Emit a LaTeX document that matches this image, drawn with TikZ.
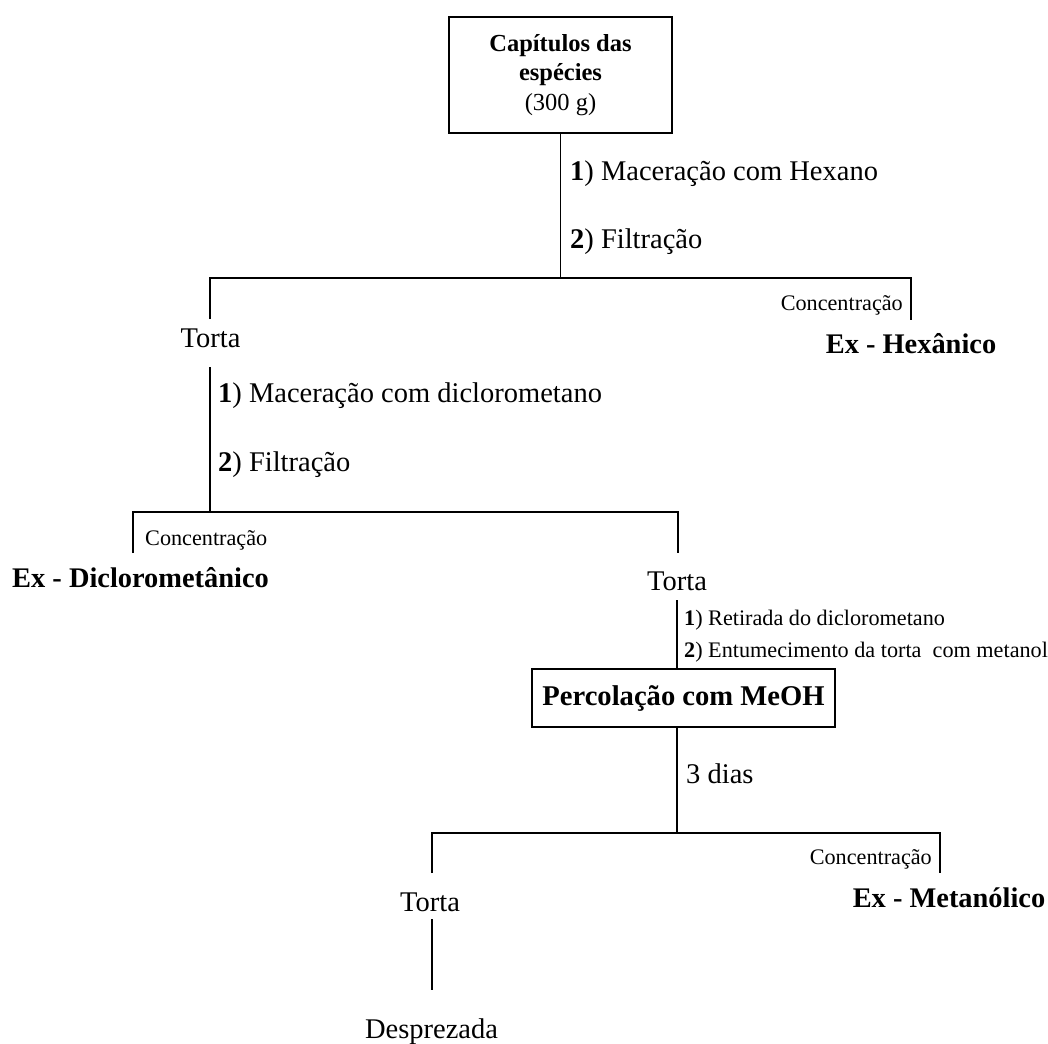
\documentclass[tikz,border=0pt]{standalone}
\usepackage{fontspec}
\setmainfont{Liberation Serif}
\begin{document}
\begin{tikzpicture}[x=1pt,y=-1pt,
  ln/.style={line width=1.5pt},
  txt/.style={inner sep=0pt, font=\fontsize{28.5}{34}\selectfont},
  sml/.style={inner sep=0pt, font=\fontsize{22.2}{26}\selectfont},
  exl/.style={inner sep=0pt, font=\fontsize{28.4}{34}\selectfont\bfseries},
  boxa/.style={draw, line width=1.5pt, inner sep=0pt, align=center}]
\useasboundingbox (0,0) rectangle (1048,1043);

% ---- level 1
\node[boxa, minimum width=223pt, minimum height=116pt,
      font=\fontsize{24.5}{29.5}\selectfont\bfseries] (box1) at (560.5,75)
      {Capítulos das\\espécies\\{\mdseries (300 g)}};
\node[txt, anchor=base west] (m1a) at (570,180) {\textbf{1}) Maceração com Hexano};
\node[txt, anchor=base west] (m1b) at (570,248) {\textbf{2}) Filtração};
\coordinate (j1) at (560.5,278);
\coordinate (l1) at (210,278);
\coordinate (r1) at (911,278);
\coordinate (t1in) at (210,319);
\coordinate (c1in) at (911,320);
\node[sml, anchor=base east] (conc1) at (903,310) {Concentração};
\node[exl, anchor=base] (exhex) at (911,353) {Ex - Hexânico};
\node[txt, anchor=base] (torta1) at (210.5,347) {Torta};
\draw[ln] (box1.south) -- (j1);
\draw[ln] (t1in) -- (l1) -- (r1) -- (c1in);

% ---- level 2
\coordinate (t1out) at (210,367);
\coordinate (j2) at (210,512);
\node[txt, anchor=base west] (m2a) at (218,402) {\textbf{1}) Maceração com diclorometano};
\node[txt, anchor=base west] (m2b) at (218,471) {\textbf{2}) Filtração};
\coordinate (l2) at (133,512);
\coordinate (r2) at (678,512);
\coordinate (c2in) at (133,553);
\coordinate (t2in) at (678,553);
\node[sml, anchor=base west] (conc2) at (145,545) {Concentração};
\node[exl, anchor=base] (exdic) at (140.5,587) {Ex - Diclorometânico};
\node[txt, anchor=base] (torta2) at (677,590) {Torta};
\draw[ln] (t1out) -- (j2);
\draw[ln] (c2in) -- (l2) -- (r2) -- (t2in);

% ---- level 3
\coordinate (t2out) at (677,600);
\node[sml, anchor=base west] (r3a) at (684,625) {\textbf{1}) Retirada do diclorometano};
\node[sml, anchor=base west] (r3b) at (684,657) {\textbf{2}) Entumecimento da torta~ com metanol};
\node[boxa, minimum width=303pt, minimum height=58pt,
      font=\fontsize{28.6}{34}\selectfont\bfseries] (box2) at (683.5,698)
      {Percolação com MeOH};
\draw[ln] (t2out) -- (t2out |- box2.north);

% ---- level 4
\coordinate (j3) at (677,833);
\node[txt, anchor=base west] (dias) at (686,783) {3 dias};
\draw[ln] (j3 |- box2.south) -- (j3);
\coordinate (l3) at (432,833);
\coordinate (r3) at (940,833);
\coordinate (t3in) at (432,873);
\coordinate (c3in) at (940,873);
\node[sml, anchor=base east] (conc3) at (932,864) {Concentração};
\node[exl, anchor=base] (exmet) at (949,907) {Ex - Metanólico};
\node[txt, anchor=base] (torta3) at (430,911) {Torta};
\draw[ln] (t3in) -- (l3) -- (r3) -- (c3in);

% ---- level 5
\coordinate (t3out) at (432,919);
\coordinate (desin) at (432,990);
\node[txt, anchor=base] (desp) at (431.5,1038) {Desprezada};
\draw[ln] (t3out) -- (desin);
\end{tikzpicture}
\end{document}
